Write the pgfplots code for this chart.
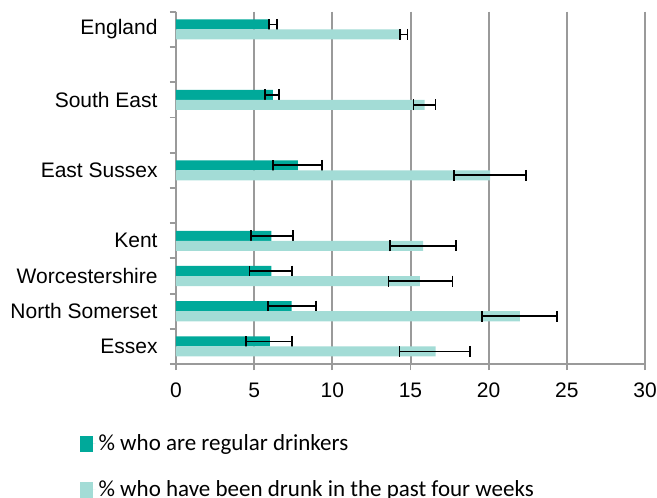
\documentclass[border=0pt]{standalone}
\usepackage{fontspec}
\setmainfont{Liberation Sans}
\newfontfamily\carlito{Carlito}
\usepackage{pgfplots}
\usepackage{pgfplotstable}
\pgfplotsset{compat=1.18}
\definecolor{darkteal}{HTML}{00A99A}
\definecolor{lightteal}{HTML}{A3DCD6}
\definecolor{gridgray}{HTML}{9A9A9A}

\pgfplotstableread{
y dark dep dem light lep lem
0 6.0 0.45 0.05 14.4 0.40 0.07
2 6.2 0.40 0.50 15.9 0.70 0.70
4 7.8 1.52 1.60 20.1 2.30 2.30
6 6.1 1.40 1.32 15.8 2.10 2.10
7 6.1 1.32 1.41 15.6 2.08 2.02
8 7.4 1.56 1.50 22.0 2.36 2.44
9 6.0 1.42 1.52 16.6 2.21 2.31
}\datatable

\begin{document}
\begin{tikzpicture}
\useasboundingbox (-88pt,-66.5pt) rectangle (240.5pt,182.05pt);
\begin{axis}[
  anchor=south west, at={(0pt,0pt)},
  scale only axis, width=234.5pt, height=176.2pt,
  xbar, bar width=0.284,
  y dir=reverse,
  xmin=0, xmax=30, ymin=-0.5, ymax=9.5,
  enlargelimits=false,
  axis x line*=bottom, axis y line*=left,
  axis line style={draw=gridgray, line width=0.9pt},
  xtick={0,5,...,30},
  ytick={0,2,4,6,7,8,9},
  yticklabels={England,South East,East Sussex,Kent,Worcestershire,North Somerset,Essex},
  minor ytick={-0.5,0.5,...,9.5},
  tick align=outside,
  major tick length=3pt, minor tick length=3pt,
  major y tick style={draw=none},
  minor y tick style={draw=gridgray, line width=0.9pt},
  major x tick style={draw=gridgray, line width=0.9pt},
  xmajorgrids,
  major grid style={draw=gridgray, line width=1pt},
  tick label style={font=\fontsize{10.5}{12}\selectfont},
  /pgf/number format/assume math mode=true,
  xticklabel style={yshift=-3pt},
  yticklabel style={xshift=-2.7pt},
  legend style={draw=none, fill=none, at={(axis description cs:-0.2047,-0.19)}, anchor=north west,
    inner sep=0pt, row sep=10.5pt, font=\carlito\fontsize{11.5}{13}\selectfont,
    nodes={inner sep=1.5pt}},
  legend cell align=left,
  legend image code/.code={\fill[#1] (0pt,-3.9pt) rectangle (6.5pt,3.9pt); \path (0pt,0pt) -- (7.6pt,0pt);},
]
\addplot[fill=darkteal, draw=none, bar shift=-0.142,
  error bars/.cd, x dir=both, x explicit, error mark=|,
  error bar style={black, line width=0.8pt},
  error mark options={black, line width=0.8pt, mark size=2.75pt}]
  table[x=dark, y=y, x error plus=dep, x error minus=dem] {\datatable};
\addlegendentry{\% who are regular drinkers}
\addplot[fill=lightteal, draw=none, bar shift=0.142,
  error bars/.cd, x dir=both, x explicit, error mark=|,
  error bar style={black, line width=0.8pt},
  error mark options={black, line width=0.8pt, mark size=2.75pt}]
  table[x=light, y=y, x error plus=lep, x error minus=lem] {\datatable};
\addlegendentry{\% who have been drunk in the past four weeks}
\end{axis}
\end{tikzpicture}
\end{document}
